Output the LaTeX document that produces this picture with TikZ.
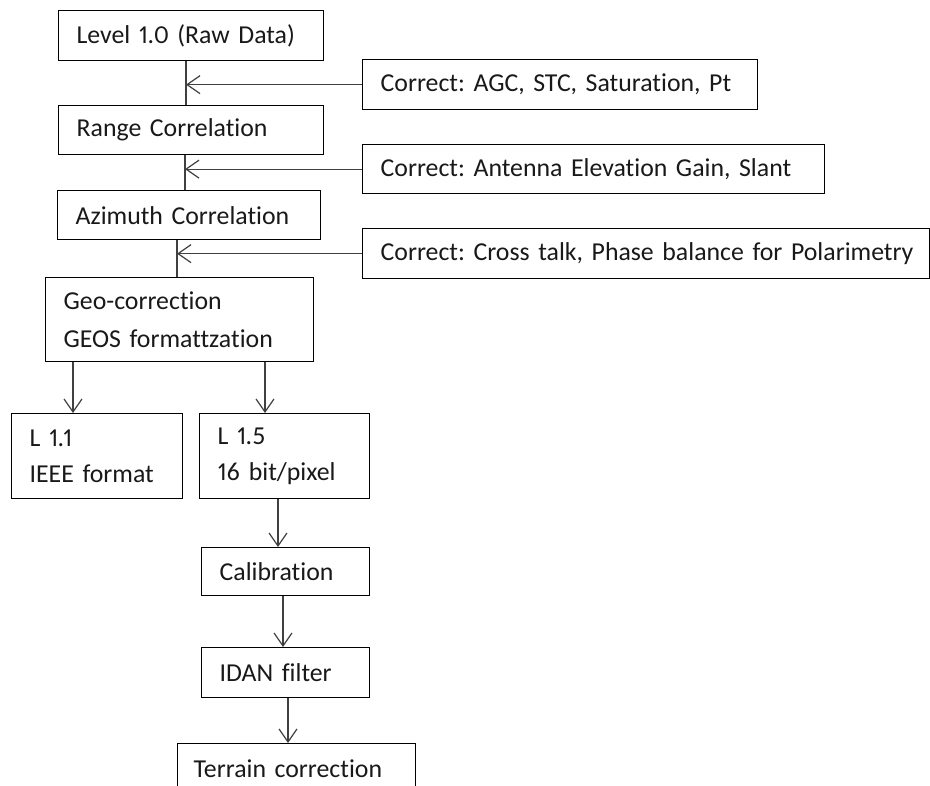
\documentclass[tikz,border=0pt]{standalone}
\usepackage{fontspec}
\setmainfont{Carlito}[Ligatures=NoCommon,Numbers=Proportional]
\usetikzlibrary{arrows.meta}
\frenchspacing
\begin{document}
\begin{tikzpicture}[x=1pt,y=-1pt,
  box/.style={draw=black,line width=1.3pt,rectangle,anchor=north west,inner xsep=18pt,inner ysep=0pt,align=left,font=\fontsize{25.8}{38}\selectfont,text=black!90},
  conn/.style={draw=black!75,line width=1.2pt},
  arr/.style={conn,-{Straight Barb[length=13pt,width=18pt,line width=1.2pt]}}]
\useasboundingbox (0,0) rectangle (930,786);
\fill[white] (0,0) rectangle (930,786);
% main chain
\node[box,minimum width=265pt,minimum height=50pt,text width=229pt] (lvl) at (58,10) {Level 1.0 (Raw Data)};
\node[box,minimum width=265pt,minimum height=49pt,text width=229pt] (rng) at (58,105) {Range Correlation};
\node[box,minimum width=263pt,minimum height=49pt,text width=227pt] (azi) at (57,190) {Azimuth Correlation};
\node[box,minimum width=268pt,minimum height=84pt,text width=232pt] (geo) at (45,277) {Geo-correction\\GEOS formattzation};
\node[box,minimum width=171pt,minimum height=85pt,text width=135pt,font=\fontsize{25.8}{36}\selectfont] (l11) at (11,413) {L 1.1\\IEEE format};
\node[box,minimum width=170pt,minimum height=85pt,text width=134pt,font=\fontsize{25.8}{36}\selectfont] (l15) at (199,413) {L 1.5\\16 bit/pixel};
\node[box,minimum width=168pt,minimum height=48pt,text width=132pt] (cal) at (201,547) {Calibration};
\node[box,minimum width=168pt,minimum height=50pt,text width=132pt] (idan) at (201,647) {IDAN filter};
\node[box,minimum width=238pt,minimum height=50pt,text width=206pt,inner xsep=16pt] (ter) at (177,743) {Terrain correction};
% correction boxes
\node[box,minimum width=395pt,minimum height=50pt,text width=359pt] (c1) at (362,59) {Correct: AGC, STC, Saturation, Pt};
\node[box,minimum width=462pt,minimum height=49pt,text width=426pt] (c2) at (362,144) {Correct: Antenna Elevation Gain, Slant};
\node[box,minimum width=567pt,minimum height=50pt,text width=531pt] (c3) at (362,228) {\mbox{Correct: Cross talk, Phase balance for Polarimetry}};
% junction positions
\coordinate (j1) at (186,84);
\coordinate (j2) at (185,168);
\coordinate (j3) at (177,253);
\coordinate (k1) at (73,0);
\coordinate (k2) at (265,0);
\coordinate (k3) at (278,0);
\coordinate (k4) at (283,0);
\coordinate (k5) at (288,0);
% vertical lines
\draw[conn] (lvl.south -| j1) -- (rng.north -| j1);
\draw[conn] (rng.south -| j2) -- (azi.north -| j2);
\draw[conn] (azi.south -| j3) -- (geo.north -| j3);
\draw[arr] (c1.west) -- (c1.west -| j1);
\draw[arr] (c2.west) -- (c2.west -| j2);
\draw[arr] (c3.west) -- (c3.west -| j3);
\draw[arr] (geo.south -| k1) -- (l11.north -| k1);
\draw[arr] (geo.south -| k2) -- (l15.north -| k2);
\draw[arr] (l15.south -| k3) -- (cal.north -| k3);
\draw[arr] (cal.south -| k4) -- (idan.north -| k4);
\draw[arr] (idan.south -| k5) -- (ter.north -| k5);
\end{tikzpicture}
\end{document}
